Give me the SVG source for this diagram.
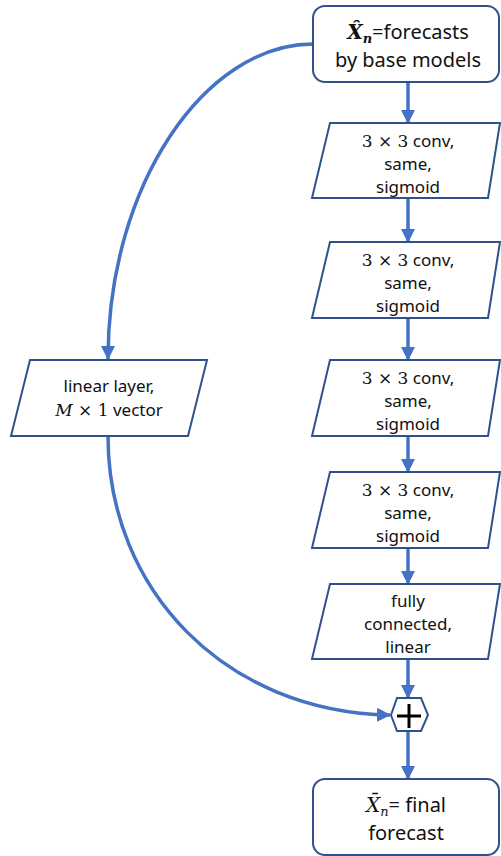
<svg xmlns="http://www.w3.org/2000/svg" width="501" height="856" viewBox="0 0 501 856">
<defs>
<marker id="ah" markerUnits="userSpaceOnUse" markerWidth="14" markerHeight="14" viewBox="0 0 14 14" refX="13" refY="7" orient="auto">
<path d="M0,0 L14,7 L0,14 Z" fill="#4472C4"/>
</marker>
<style>
.box{fill:#fff;stroke:#2F528F;stroke-width:2}
.con{fill:none;stroke:#4472C4;stroke-width:3.5;marker-end:url(#ah)}
.t{font-family:"Noto Sans","Open Sans","DejaVu Sans",sans-serif;font-size:17px;fill:#111;text-anchor:middle}
.tl{font-family:"Noto Sans","Open Sans","DejaVu Sans",sans-serif;font-size:20px;fill:#111;text-anchor:middle}
.m{font-family:"DejaVu Serif","Liberation Serif",serif}
</style>
</defs>
<rect width="501" height="856" fill="#fff"/>
<g id="connectors">
<path class="con" d="M313,44 C205,44 108,185 108,359"/>
<path class="con" d="M108,436 C108,590 225,712 390,715"/>
<path class="con" d="M408,82 L408,123"/>
<path class="con" d="M408,198 L408,242"/>
<path class="con" d="M408,318 L408,360"/>
<path class="con" d="M408,436 L408,472"/>
<path class="con" d="M408,548 L408,584"/>
<path class="con" d="M408,659 L408,698"/>
<path class="con" d="M408,731 L408,779"/>
</g>
<g id="input">
<rect class="box" x="313" y="6" width="186" height="76" rx="12"/>
<text class="tl" x="408" y="39"><tspan class="m" font-weight="bold" font-style="italic">X̂</tspan><tspan class="m" font-weight="bold" font-style="italic" font-size="13" dy="4">n</tspan><tspan dy="-4">=forecasts</tspan></text>
<text class="tl" x="408" y="67">by base models</text>
</g>
<g id="conv1">
<polygon class="box" points="330,123 500,123 488,198 312,198"/>
<text class="t" x="408" y="147"><tspan class="m">3 × 3</tspan> conv,</text>
<text class="t" x="408" y="170">same,</text>
<text class="t" x="408" y="193">sigmoid</text>
</g>
<g id="conv2">
<polygon class="box" points="330,242 500,242 488,318 312,318"/>
<text class="t" x="408" y="266"><tspan class="m">3 × 3</tspan> conv,</text>
<text class="t" x="408" y="289">same,</text>
<text class="t" x="408" y="312">sigmoid</text>
</g>
<g id="conv3">
<polygon class="box" points="330,360 500,360 488,436 312,436"/>
<text class="t" x="408" y="384"><tspan class="m">3 × 3</tspan> conv,</text>
<text class="t" x="408" y="407">same,</text>
<text class="t" x="408" y="430">sigmoid</text>
</g>
<g id="conv4">
<polygon class="box" points="330,472 500,472 488,548 312,548"/>
<text class="t" x="408" y="496"><tspan class="m">3 × 3</tspan> conv,</text>
<text class="t" x="408" y="519">same,</text>
<text class="t" x="408" y="542">sigmoid</text>
</g>
<g id="fc">
<polygon class="box" points="330,584 500,584 488,659 312,659"/>
<text class="t" x="408" y="607">fully</text>
<text class="t" x="408" y="630">connected,</text>
<text class="t" x="408" y="653">linear</text>
</g>
<g id="linear">
<polygon class="box" points="30,360 207,360 188,436 11,436"/>
<text class="t" x="109" y="392">linear layer,</text>
<text class="t" x="109" y="416"><tspan class="m" font-style="italic">M</tspan><tspan class="m"> × 1</tspan> vector</text>
</g>
<g id="sum">
<polygon class="box" points="391,715 397,698 421,698 428,715 421,731 397,731"/>
<path d="M397,716 L421,716 M409,704 L409,728" stroke="#000" stroke-width="3" fill="none"/>
</g>
<g id="output">
<rect class="box" x="313" y="779" width="186" height="76" rx="12"/>
<text class="tl" x="406" y="812"><tspan class="m" font-style="italic">X̄</tspan><tspan class="m" font-style="italic" font-size="13" dy="4">n</tspan><tspan dy="-4">= final</tspan></text>
<text class="tl" x="406" y="840">forecast</text>
</g>
</svg>
